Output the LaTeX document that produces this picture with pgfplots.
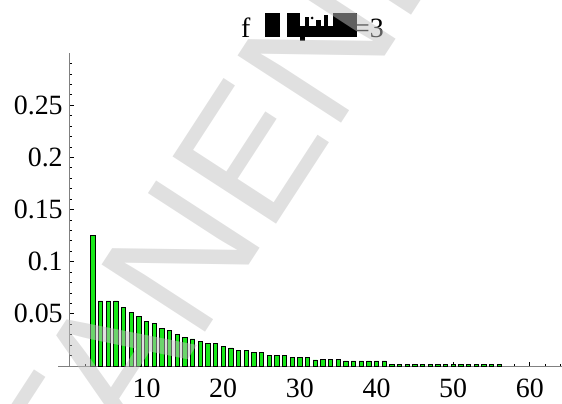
\documentclass[border=0pt]{standalone}
\usepackage{fontspec}
\setmainfont{Liberation Serif}
\newfontfamily\marksans{Liberation Sans}
\usepackage{pgfplots}
\usepackage{pgfplotstable}
\pgfplotsset{compat=1.18}

\definecolor{bargreen}{RGB}{24,232,24}
\definecolor{axisgray}{RGB}{128,128,128}
\definecolor{markgray}{RGB}{193,193,193}

% probability of each value k
\pgfplotstableread{
k  p
3  0.1248
4  0.0624
5  0.0624
6  0.0624
7  0.0559
8  0.0514
9  0.0472
10 0.0429
11 0.0405
12 0.0360
13 0.0342
14 0.0302
15 0.0275
16 0.0259
17 0.0234
18 0.0218
19 0.0216
20 0.0190
21 0.0173
22 0.0147
23 0.0147
24 0.0132
25 0.0132
26 0.0102
27 0.0102
28 0.0104
29 0.0084
30 0.0084
31 0.0084
32 0.0058
33 0.0064
34 0.0064
35 0.0064
36 0.0048
37 0.0048
38 0.0048
39 0.0048
40 0.0048
41 0.0048
42 0.0019
43 0.0019
44 0.0019
45 0.0019
46 0.0019
47 0.0019
48 0.0019
49 0.0019
50 0.0019
51 0.0019
52 0.0019
53 0.0019
54 0.0019
55 0.0019
56 0.0019
}\freqtable

\newcommand{\lbl}{\fontsize{28}{32}\selectfont}

\begin{document}
\begin{tikzpicture}[x=1bp,y=1bp]
\path[use as bounding box] (0,0) rectangle (562,403);

\begin{axis}[
  at={(58bp,37bp)}, anchor=south west,
  scale only axis, width=504bp, height=313bp,
  xmin=-1.55, xmax=64.2, ymin=0, ymax=0.3,
  axis lines=middle,
  axis line style={draw=axisgray, line width=1bp, -},
  clip=false,
  xtick={10,20,30,40,50,60},
  minor xtick={2,4,...,64},
  ytick={0.05,0.1,0.15,0.2,0.25},
  minor ytick={0.01,0.02,0.03,0.04,0.06,0.07,0.08,0.09,0.11,0.12,0.13,0.14,0.16,0.17,0.18,0.19,0.21,0.22,0.23,0.24,0.26,0.27,0.28,0.29},
  scaled y ticks=false,
  /pgf/number format/fixed,
  /pgf/number format/precision=2,
  /pgf/number format/assume math mode=true,
  tick align=inside,
  major tick length=4.5bp, minor tick length=2.5bp,
  every tick/.style={black, line width=0.7bp},
  tick label style={font=\lbl, inner sep=0pt},
  xticklabel style={anchor=north, yshift=-13bp},
  yticklabel style={anchor=east, xshift=-7bp},
]
\addplot[ybar, bar width=0.55, fill=bargreen, draw=black, line width=0.7bp]
  table[x=k, y=p] {\freqtable};
\end{axis}

% title: f, glyphs the font could not render, =3
\node[anchor=base west, inner sep=0pt, font=\lbl] at (241,366) {f};
\fill[black] (265,366) rectangle (280,390);
\fill[black] (287,366) rectangle (300,390);
\fill[black] (300,366) rectangle (357,377);
\fill[black] (333,366) rectangle (357,390);
\fill[black] (305,377) rectangle (309,386);
\fill[black] (316,377) rectangle (321,383);
\fill[black] (324,377) rectangle (328,388);
\fill[black] (312,385) circle (1.5);
\fill[black] (300,362) rectangle (305,366);
\node[anchor=base west, inner sep=0pt, font=\lbl] at (354,366) {=3};

% publisher watermark across the page
\begin{scope}
\clip (0,0) rectangle (562,403);
\begin{scope}[transparency group, opacity=0.5]
\node[anchor=base west, inner sep=0pt, rotate=57, text=markgray,
      font={\marksans\fontsize{180}{182}\selectfont}] at (80,-123) {TANENBAUM};
\end{scope}
\end{scope}
\end{tikzpicture}
\end{document}
